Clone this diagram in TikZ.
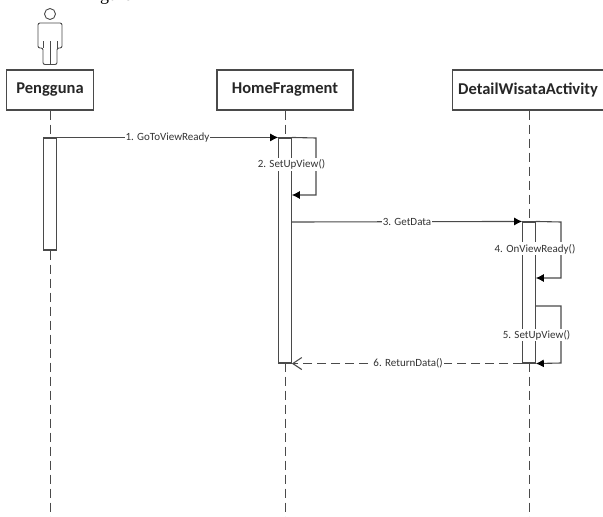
\documentclass[tikz,border=0pt]{standalone}
\usepackage{fontspec}
\setmainfont{Carlito}
\newfontfamily\serifcut{Liberation Serif}
\usetikzlibrary{positioning,arrows.meta}
\definecolor{linegray}{HTML}{4A4A4A}
\tikzset{
  headbox/.style={draw=linegray,line width=1.2pt,fill=white,minimum height=40pt,inner sep=0pt,font=\fontsize{16.5}{16.5}\selectfont\bfseries,text=black!85},
  lifeline/.style={draw=linegray,line width=1pt,dash pattern=on 9pt off 5pt},
  actbar/.style={draw=linegray,line width=1.1pt,fill=white,minimum width=12.5pt,inner sep=0pt},
  msgline/.style={draw=linegray,line width=1.1pt,-{Latex[length=8pt,width=8pt,black]}},
  backline/.style={draw=linegray,line width=1.1pt,dash pattern=on 9pt off 5pt,-{Straight Barb[length=9pt,width=12pt]}},
  msglabel/.style={fill=white,inner xsep=1pt,inner ysep=1.5pt,font=\fontsize{11}{11}\selectfont,text=black!80},
}
\begin{document}
\begin{tikzpicture}[x=1pt,y=-1pt]
    \useasboundingbox (0,0) rectangle (603,517);
    % cut-off line of text above the picture
    \node[anchor=base west,inner sep=0pt,font=\serifcut\fontsize{18}{18}\selectfont] (cuttext) at (100,0.6) {gure};

    % actor
    \node[circle,draw=linegray,line width=0.9pt,minimum size=11pt,inner sep=0pt] (head) at (50,14) {};
    \draw[draw=linegray,line width=0.9pt,rounded corners=2pt] (38,48) -- (38,23) -- (62,23) -- (62,48) -- (57,48) -- (57,64.5) -- (43,64.5) -- (43,48) -- cycle;
    \draw[draw=linegray,line width=0.9pt] (50,41) -- (50,64.5) (43,41) -- (43,48) (57,41) -- (57,48);

    % heads
    \node[headbox,minimum width=87pt] (pengguna) at (50,90) {Pengguna};
    \node[headbox,minimum width=136pt] (home) at (285,90) {HomeFragment};
    \node[headbox,minimum width=151pt] (detail) at (528,90) {DetailWisataActivity};

    % life lines
    \coordinate (penggunaend) at (50,517);
    \coordinate (homeend) at (285,517);
    \coordinate (detailend) at (529,517);
    \draw[lifeline] (pengguna.south) -- (penggunaend);
    \draw[lifeline] (home.south) -- (homeend);
    \draw[lifeline] (detail.south -| detailend) -- (detailend);

    % activations
    \node[actbar,minimum height=112pt] (actuser) at (50,194) {};
    \node[actbar,minimum height=225pt] (acthome) at (285,250.5) {};
    \node[actbar,minimum height=141pt] (actdetail) at (529,292.5) {};

    % messages
    \draw[msgline] (actuser.north east) -- node[msglabel,pos=.5] (lblone) {1. GoToViewReady} (acthome.north west);
    \coordinate (selfa) at (acthome.east |- 0,195);
    \draw[msgline] (acthome.north east) -- (316,138) -- node[msglabel,pos=.47,xshift=-24.5pt] (lbltwo) {2. SetUpView()} (316,195) -- (selfa);
    \coordinate (msgthree) at (acthome.east |- 0,222);
    \coordinate (msgthreeend) at (actdetail.north west);
    \draw[msgline] (msgthree) -- node[msglabel,pos=.5] (lblthree) {3. GetData} (msgthreeend);
    \coordinate (selfb) at (actdetail.east |- 0,278);
    \draw[msgline] (actdetail.north east) -- (561,222) -- node[msglabel,pos=.48,xshift=-26pt] (lblfour) {4. OnViewReady()} (561,278) -- (selfb);
    \coordinate (selfc) at (actdetail.east |- 0,306);
    \draw[msgline] (selfc) -- (561,306) -- node[msglabel,pos=.51,xshift=-24.5pt] (lblfive) {5. SetUpView()} (561,363) -- (actdetail.south east);
    \draw[backline] (actdetail.south west) -- node[msglabel,pos=.495] (lblsix) {6. ReturnData()} (acthome.south east);
\end{tikzpicture}
\end{document}
